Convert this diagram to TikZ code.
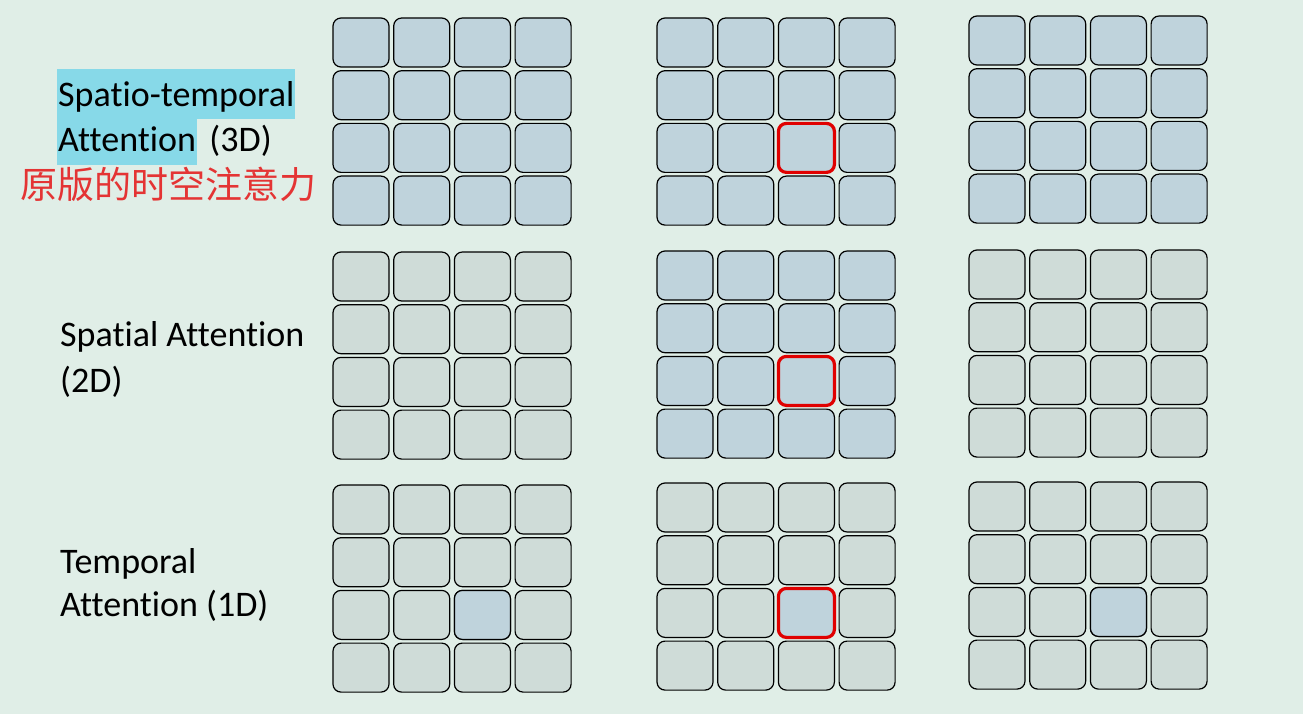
\documentclass[tikz,border=0pt]{standalone}
\usepackage{fontspec}
\setmainfont{Carlito}[Ligatures=NoCommon]
\newfontfamily\cjkfont{Noto Sans CJK SC}
\usepackage{xcolor}
\definecolor{bgmint}{RGB}{224,238,231}
\definecolor{cellblue}{RGB}{191,211,220}
\definecolor{cellgrey}{RGB}{207,220,216}
\definecolor{marker}{RGB}{135,217,232}
\definecolor{rot}{RGB}{228,52,52}
\definecolor{hired}{RGB}{224,0,0}
% one 4x4 block of cells: name, left, top, fill
\newcommand{\cellgrid}[4]{%
    \foreach \i in {0,...,3}{
        \foreach \j in {0,...,3}{
            \node[cell, fill=#4] (#1-\i-\j) at ({#2+28+60.7*\i},{#3+24.5+52.7*\j}) {};
        }
    }
}
\tikzset{
    cell/.style={draw, line width=1.2pt, rounded corners=8pt, minimum width=56pt,
        minimum height=49pt, inner sep=0pt, outer sep=0pt},
    selcell/.style={cell, draw=hired, line width=3.2pt},
    rowlabel/.style={anchor=base west, inner sep=0pt, font=\fontsize{36}{43}\selectfont},
}

\begin{document}
\begin{tikzpicture}[x=1pt, y=-1pt]
    \useasboundingbox (0,0) rectangle (1303,714);
    \fill[bgmint] (0,0) rectangle (1303,714);
    %
    % labels
    \node[rowlabel, fill=marker, inner xsep=1pt, text height=38pt, text depth=12pt] (st-a) at (57,107) {Spatio-temporal};
    \node[rowlabel, fill=marker, inner xsep=1pt, text height=33pt, text depth=13pt] (st-b) at (57,152) {Attention};
    \node[rowlabel] (st-c) at ([xshift=12pt]st-b.base east) {(3D)};
    \node[rowlabel, text=rot, font=\cjkfont\fontsize{37}{40}\selectfont] (st-zh) at (20,199) {原版的时空注意力};
    \node[rowlabel] (sp-a) at (60,346) {Spatial Attention};
    \node[rowlabel] (sp-b) at (60,392) {(2D)};
    \node[rowlabel] (tm-a) at (60,573) {Temporal};
    \node[rowlabel] (tm-b) at (60,616) {Attention (1D)};
    %
    % spatio-temporal
    \cellgrid{st1}{333}{18}{cellblue}
    \cellgrid{st2}{657}{18}{cellblue}
    \cellgrid{st3}{969}{16}{cellblue}
    % spatial
    \cellgrid{sp1}{333}{252}{cellgrey}
    \cellgrid{sp2}{657}{251}{cellblue}
    \cellgrid{sp3}{969}{250}{cellgrey}
    % temporal
    \cellgrid{tm1}{333}{485}{cellgrey}
    \cellgrid{tm2}{657}{483}{cellgrey}
    \cellgrid{tm3}{969}{482}{cellgrey}
    \node[cell, fill=cellblue] (tm1-hit) at (tm1-2-2) {};
    \node[cell, fill=cellblue] (tm3-hit) at (tm3-2-2) {};
    %
    % query cell
    \node[selcell, fill=cellblue] (st2-q) at (st2-2-2) {};
    \node[selcell, fill=cellblue] (sp2-q) at (sp2-2-2) {};
    \node[selcell, fill=cellblue] (tm2-q) at (tm2-2-2) {};
\end{tikzpicture}
\end{document}
